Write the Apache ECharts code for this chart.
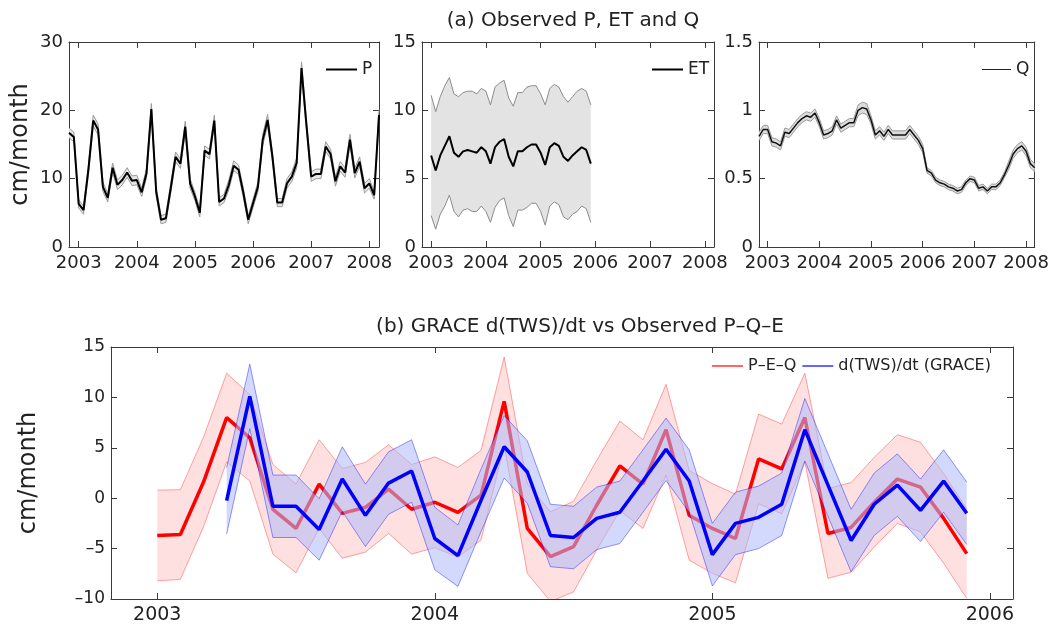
<!DOCTYPE html>
<html>
<head>
<meta charset="utf-8">
<script src="https://cdn.jsdelivr.net/npm/echarts@6/dist/echarts.min.js"></script>
<style>
  html, body { margin: 0; background: #fff; }
  #chart { width: 1052px; height: 625px; }
</style>
</head>
<body>
<div id="chart"></div>
<script>
// months counted from Jan 2003 (0 = Jan 2003)
const topStart = -2;      // P and Q start Nov 2002
const etStart = 0;        // ET and panel (b) start Jan 2003
const blueStart = 3;      // GRACE starts Apr 2003

const yearTicksTop = [0, 12, 24, 36, 48, 60];
const yearTicksBottom = [0, 12, 24, 36];

const precip = [16.7, 16.1, 6.3, 5.4, 11.3, 18.5, 17.2, 8.8, 7.2, 11.6, 9.1, 9.8, 10.9, 9.7, 9.8, 8.0,
  10.8, 20.2, 8.1, 4.0, 4.2, 8.6, 13.2, 12.2, 17.6, 9.3, 7.4, 5.0, 14.1, 13.6, 18.5, 6.6, 7.1, 9.1,
  11.9, 11.3, 7.9, 4.0, 6.4, 8.8, 15.7, 18.6, 13.2, 6.5, 6.5, 9.3, 10.3, 12.3, 26.2, 18.0, 10.3, 10.7,
  10.7, 14.7, 13.6, 9.6, 11.8, 10.9, 15.7, 10.8, 12.5, 8.6, 9.3, 7.6, 19.3];
const precipErr = [0.7, 0.7, 0.6, 0.6, 0.7, 0.8, 0.8, 0.7, 0.6, 0.7, 0.7, 0.7, 0.7, 0.7, 0.7, 0.6,
  0.7, 0.8, 0.7, 0.6, 0.6, 0.7, 0.7, 0.7, 0.8, 0.7, 0.6, 0.6, 0.7, 0.7, 0.8, 0.6, 0.6, 0.7,
  0.7, 0.7, 0.7, 0.6, 0.6, 0.7, 0.8, 0.8, 0.7, 0.6, 0.6, 0.7, 0.7, 0.7, 0.9, 0.8, 0.7, 0.7,
  0.7, 0.7, 0.7, 0.7, 0.7, 0.7, 0.8, 0.7, 0.7, 0.7, 0.7, 0.6, 0.8];

const et = [6.7, 5.6, 6.7, 7.4, 8.1, 6.9, 6.6, 7.0, 7.1, 7.0, 6.9, 7.3, 7.0, 6.1, 7.3, 7.7, 7.9, 6.6,
  5.9, 7.0, 7.0, 7.3, 7.5, 7.5, 6.9, 6.0, 7.3, 7.6, 7.4, 6.6, 6.3, 6.7, 7.0, 7.3, 7.1, 6.1];
const etErr = [4.4, 4.3, 4.3, 4.4, 4.3, 4.3, 4.4, 4.3, 4.3, 4.4, 4.3, 4.3, 4.4, 4.3, 4.4, 4.3, 4.3, 4.3,
  4.4, 4.3, 4.3, 4.4, 4.3, 4.3, 4.3, 4.4, 4.3, 4.3, 4.3, 4.4, 4.3, 4.3, 4.4, 4.3, 4.3, 4.3];

const runoff = [0.81, 0.86, 0.86, 0.77, 0.76, 0.74, 0.84, 0.83, 0.87, 0.91, 0.94, 0.96, 0.95, 0.98,
  0.91, 0.82, 0.83, 0.85, 0.93, 0.87, 0.89, 0.91, 0.91, 1.0, 1.02, 1.01, 0.93, 0.82, 0.85, 0.81,
  0.86, 0.82, 0.82, 0.82, 0.82, 0.86, 0.82, 0.78, 0.72, 0.56, 0.54, 0.49, 0.47, 0.46, 0.44, 0.43,
  0.41, 0.42, 0.47, 0.5, 0.49, 0.43, 0.44, 0.41, 0.44, 0.44, 0.47, 0.53, 0.6, 0.68, 0.72, 0.74,
  0.7, 0.61, 0.58];
const runoffErr = [0.03, 0.03, 0.03, 0.03, 0.03, 0.03, 0.03, 0.03, 0.03, 0.03, 0.03, 0.03, 0.03, 0.03,
  0.03, 0.03, 0.03, 0.03, 0.03, 0.03, 0.03, 0.03, 0.03, 0.04, 0.04, 0.04, 0.03, 0.03, 0.03, 0.03,
  0.03, 0.03, 0.03, 0.03, 0.03, 0.03, 0.03, 0.03, 0.03, 0.02, 0.02, 0.02, 0.02, 0.02, 0.02, 0.02,
  0.02, 0.02, 0.02, 0.02, 0.02, 0.02, 0.02, 0.02, 0.02, 0.02, 0.02, 0.02, 0.03, 0.03, 0.03, 0.03,
  0.03, 0.03, 0.03];

const peq = [-3.7, -3.6, 1.6, 8.0, 6.0, -1.1, -3.0, 1.4, -1.5, -0.9, 0.9, -1.1, -0.4, -1.4, 0.3, 9.6,
  -3.0, -5.8, -4.8, -0.7, 3.2, 1.4, 6.8, -1.7, -3.0, -4.0, 3.9, 2.9, 8.0, -3.5, -2.9, -0.4, 1.9, 1.1,
  -2.0, -5.5];
const peqErr = [4.5, 4.45, 4.45, 4.4, 4.3, 4.45, 4.4, 4.4, 4.45, 4.45, 4.4, 4.45, 4.5, 4.45, 4.45, 4.4,
  4.45, 4.45, 4.5, 4.45, 4.45, 4.4, 4.5, 4.45, 4.45, 4.4, 4.45, 4.45, 4.4, 4.45, 4.45, 4.45, 4.4, 4.45,
  4.45, 4.45];

const dtws = [-0.25, 10.1, -0.8, -0.8, -3.1, 1.9, -1.7, 1.5, 2.7, -4.0, -5.7, -0.2, 5.1, 2.6, -3.7, -3.9,
  -2.0, -1.4, 1.7, 4.85, 1.7, -5.6, -2.5, -1.9, -0.6, 6.8, 1.3, -4.2, -0.6, 1.3, -1.2, 1.7, -1.5];
const dtwsErr = [3.3, 3.2, 3.1, 3.1, 3.05, 3.2, 3.1, 3.1, 3.1, 3.1, 3.05, 3.1, 3.1, 3.1, 3.1, 3.1,
  3.1, 3.1, 3.1, 3.1, 3.1, 3.1, 3.1, 3.1, 3.1, 3.1, 3.1, 3.1, 3.1, 3.1, 3.1, 3.1, 3.1];

const FONT = 'DejaVu Sans';
const AXIS_COLOR = '#3a3a3a';
const TEXT_COLOR = '#222';

function pairs(x0, vals, errs, sign) {
  return vals.map((v, i) => [x0 + i, errs ? v + sign * errs[i] : v]);
}

function xAxisOf(grid, min, max, ticks, pos, fontSize) {
  return {
    type: 'value', gridIndex: grid, position: pos, min: min, max: max,
    axisLine: { show: true, onZero: false, lineStyle: { color: AXIS_COLOR, width: 1 } },
    axisTick: { show: true, inside: true, length: 6, customValues: ticks, lineStyle: { color: AXIS_COLOR } },
    axisLabel: {
      show: pos === 'bottom', customValues: ticks, margin: 7,
      formatter: v => String(2003 + Math.round(v / 12)),
      fontSize: fontSize || 18, color: TEXT_COLOR, fontFamily: FONT
    },
    splitLine: { show: false }
  };
}

function yAxisOf(grid, min, max, interval, pos, name, gap) {
  return {
    type: 'value', gridIndex: grid, position: pos, min: min, max: max, interval: interval,
    name: name || '', nameLocation: 'middle', nameGap: gap || 0,
    nameTextStyle: { fontSize: 24, color: TEXT_COLOR, fontFamily: FONT },
    axisLine: { show: true, onZero: false, lineStyle: { color: AXIS_COLOR, width: 1 } },
    axisTick: { show: true, inside: true, length: 6, lineStyle: { color: AXIS_COLOR } },
    axisLabel: {
      show: pos === 'left', margin: 6, fontSize: grid === 3 ? 17 : 18, color: TEXT_COLOR, fontFamily: FONT,
      formatter: v => (v < 0 ? '–' + Math.abs(v) : String(v))
    },
    splitLine: { show: false }
  };
}

// shaded uncertainty band as one polygon through the axis scales
function bandFill(idx, x0, vals, errs, fill, z) {
  return {
    type: 'custom', xAxisIndex: idx, yAxisIndex: idx, silent: true, clip: true, z: z,
    data: vals.map((v, i) => [x0 + i, v - errs[i], v + errs[i]]),
    encode: { x: 0, y: [1, 2] },
    renderItem: (params, api) => {
      if (params.dataIndexInside !== 0) return null;
      const pts = [];
      for (let i = 0; i < vals.length; i++) pts.push(api.coord([x0 + i, vals[i] + errs[i]]));
      for (let i = vals.length - 1; i >= 0; i--) pts.push(api.coord([x0 + i, vals[i] - errs[i]]));
      return { type: 'polygon', shape: { points: pts }, style: { fill: fill } };
    }
  };
}

function edgeLine(idx, data, color, z) {
  return {
    type: 'line', xAxisIndex: idx, yAxisIndex: idx, data: data, symbol: 'none', silent: true, z: z,
    lineStyle: { color: color, width: 1 }
  };
}

function mainLine(idx, name, data, color, width, z) {
  return {
    type: 'line', name: name, xAxisIndex: idx, yAxisIndex: idx, data: data, symbol: 'none', z: z,
    lineStyle: { color: color, width: width }, itemStyle: { color: color }
  };
}

function legendItem(name, color) {
  return { name: name, icon: 'rect', itemStyle: { color: color, borderWidth: 0 } };
}

const legendText = { fontSize: 17, color: TEXT_COLOR, fontFamily: FONT };
const legendTextSmall = { fontSize: 16, color: TEXT_COLOR, fontFamily: FONT };

const option = {
  animation: false,
  backgroundColor: '#fff',
  title: [
    { text: '(a) Observed P, ET and Q', left: 568, top: 6, textAlign: 'center',
      textStyle: { fontSize: 20, fontWeight: 'normal', color: TEXT_COLOR, fontFamily: FONT } },
    { text: '(b) GRACE d(TWS)/dt vs Observed P–Q–E', left: 575, top: 312, textAlign: 'center',
      textStyle: { fontSize: 20, fontWeight: 'normal', color: TEXT_COLOR, fontFamily: FONT } }
  ],
  grid: [
    { left: 69, top: 42, width: 310, height: 205 },
    { left: 422, top: 42, width: 292, height: 205 },
    { left: 759, top: 42, width: 279, height: 205 },
    { left: 111, top: 347, width: 902, height: 254 }
  ],
  xAxis: [
    xAxisOf(0, -2, 62, yearTicksTop, 'bottom'),
    xAxisOf(1, -2, 62, yearTicksTop, 'bottom'),
    xAxisOf(2, -2, 62, yearTicksTop, 'bottom'),
    xAxisOf(3, -2, 37, yearTicksBottom, 'bottom', 19),
    xAxisOf(0, -2, 62, yearTicksTop, 'top'),
    xAxisOf(1, -2, 62, yearTicksTop, 'top'),
    xAxisOf(2, -2, 62, yearTicksTop, 'top'),
    xAxisOf(3, -2, 37, yearTicksBottom, 'top')
  ],
  yAxis: [
    yAxisOf(0, 0, 30, 10, 'left', 'cm/month', 36),
    yAxisOf(1, 0, 15, 5, 'left'),
    yAxisOf(2, 0, 1.5, 0.5, 'left'),
    yAxisOf(3, -10, 15, 5, 'left', 'cm/month', 70),
    yAxisOf(0, 0, 30, 10, 'right'),
    yAxisOf(1, 0, 15, 5, 'right'),
    yAxisOf(2, 0, 1.5, 0.5, 'right'),
    yAxisOf(3, -10, 15, 5, 'right')
  ],
  legend: [
    { data: [legendItem('P', '#000')], left: 321, top: 56, itemWidth: 31, itemHeight: 2, itemGap: 0,
      textStyle: legendText },
    { data: [legendItem('ET', '#000')], left: 647, top: 56, itemWidth: 31, itemHeight: 2, itemGap: 0,
      textStyle: legendText },
    { data: [legendItem('Q', '#222')], left: 977, top: 56, itemWidth: 29, itemHeight: 1, itemGap: 0,
      textStyle: legendText },
    { data: [legendItem('P–E–Q', '#ff0000'), legendItem('d(TWS)/dt (GRACE)', '#0000ff')],
      left: 707, top: 353, itemWidth: 31, itemHeight: 1.2, itemGap: 6, textStyle: legendTextSmall }
  ],
  series: [
    // P
    bandFill(0, topStart, precip, precipErr, '#e6e6e6', 1),
    edgeLine(0, pairs(topStart, precip, precipErr, 1), '#9a9a9a', 2),
    edgeLine(0, pairs(topStart, precip, precipErr, -1), '#9a9a9a', 2),
    mainLine(0, 'P', pairs(topStart, precip), '#000', 2, 3),
    // ET
    bandFill(1, etStart, et, etErr, '#e3e3e3', 1),
    edgeLine(1, pairs(etStart, et, etErr, 1), '#8c8c8c', 2),
    edgeLine(1, pairs(etStart, et, etErr, -1), '#8c8c8c', 2),
    mainLine(1, 'ET', pairs(etStart, et), '#000', 2, 3),
    // Q
    bandFill(2, topStart, runoff, runoffErr, '#dcdcdc', 1),
    edgeLine(2, pairs(topStart, runoff, runoffErr, 1), '#9a9a9a', 2),
    edgeLine(2, pairs(topStart, runoff, runoffErr, -1), '#9a9a9a', 2),
    mainLine(2, 'Q', pairs(topStart, runoff), '#111', 1.5, 3),
    // P-E-Q
    bandFill(3, etStart, peq, peqErr, 'rgba(255,0,0,0.12)', 1),
    edgeLine(3, pairs(etStart, peq, peqErr, 1), 'rgba(255,0,0,0.35)', 2),
    edgeLine(3, pairs(etStart, peq, peqErr, -1), 'rgba(255,0,0,0.35)', 2),
    mainLine(3, 'P–E–Q', pairs(etStart, peq), '#ff0000', 3.5, 3),
    // GRACE
    bandFill(3, blueStart, dtws, dtwsErr, 'rgba(175,185,250,0.55)', 4),
    edgeLine(3, pairs(blueStart, dtws, dtwsErr, 1), 'rgba(0,0,255,0.4)', 5),
    edgeLine(3, pairs(blueStart, dtws, dtwsErr, -1), 'rgba(0,0,255,0.4)', 5),
    mainLine(3, 'd(TWS)/dt (GRACE)', pairs(blueStart, dtws), '#0000ff', 3.5, 6)
  ]
};

const chart = echarts.init(document.getElementById('chart'));
chart.setOption(option);
</script>
</body>
</html>
